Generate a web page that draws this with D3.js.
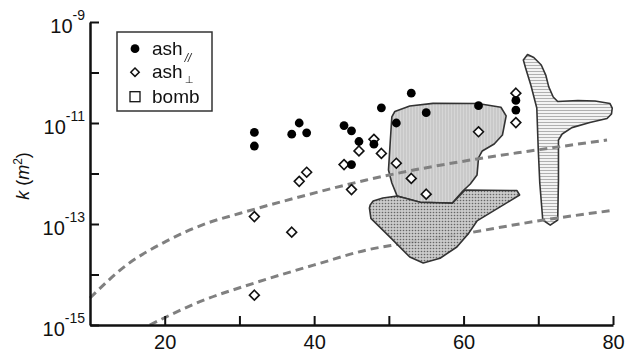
<!DOCTYPE html>
<html>
<head>
<meta charset="utf-8">
<script src="https://cdn.jsdelivr.net/npm/d3@7"></script>
<style>
  body { margin: 0; background: #fff; }
  svg { display: block; font-family: "Liberation Sans", Arial, sans-serif; }
</style>
</head>
<body>
<div id="chart"></div>
<script>
// values: x, permeability k (m^2)
var xTicks = [20, 30, 40, 50, 60, 70, 80];
var xLabels = [20, 40, 60, 80];
var yTicks = [1e-15, 1e-14, 1e-13, 1e-12, 1e-11, 1e-10, 1e-9];
var yLabels = [-15, -13, -11, -9];

var ashParX = [32, 32, 37, 38, 39, 44, 45, 45, 46, 48, 49, 51, 53, 55, 62, 67, 67];
var ashParK = [6.5e-12, 3.5e-12, 6.0e-12, 1.0e-11, 6.4e-12, 8.9e-12, 7.0e-12, 1.5e-12, 4.3e-12,
               3.8e-12, 2.0e-11, 1.0e-11, 3.9e-11, 1.6e-11, 2.2e-11, 2.8e-11, 1.8e-11];

var ashPerpX = [32, 32, 37, 38, 39, 44, 45, 46, 48, 49, 51, 53, 55, 62, 67, 67];
var ashPerpK = [1.4e-13, 3.9e-15, 6.9e-14, 7.0e-13, 1.06e-12, 1.5e-12, 4.8e-13, 2.8e-12,
                4.75e-12, 2.5e-12, 1.6e-12, 8.0e-13, 3.9e-13, 6.7e-12, 3.9e-11, 1.02e-11];

// dashed trend curves
var upperCurve = [[10, 3.43e-15], [14.9, 1.54e-14], [20.1, 4.47e-14], [25.6, 1.03e-13], [30.1, 1.63e-13],
                  [39.0, 3.75e-13], [47.0, 7.43e-13], [61.8, 1.94e-12], [68.9, 2.79e-12], [79.2, 4.6e-12]];
var lowerCurve = [[18.0, 1.0e-15], [24.7, 2.89e-15], [31.9, 6.7e-15], [40.8, 1.67e-14], [47.0, 3.05e-14],
                  [51.5, 4.02e-14], [60.4, 6.55e-14], [69.3, 1.11e-13], [79.6, 1.83e-13]];

// shaded regions
var grayRegion = [[50.8, 1.69e-11], [52.8, 2.17e-11], [55.9, 2.45e-11], [61.9, 2.43e-11], [65.0, 2.05e-11],
                  [65.7, 1.38e-11], [65.2, 5.78e-12], [64.1, 3.84e-12], [62.5, 2.79e-12], [62.0, 2.03e-12],
                  [61.8, 9.3e-13], [60.9, 6.2e-13], [59.9, 4.5e-13], [58.5, 2.6e-13], [54.2, 2.7e-13],
                  [51.1, 3.6e-13], [50.4, 6.5e-13], [49.95, 1.17e-12], [50.2, 4.6e-12], [50.4, 1.32e-11]];
var dotRegion = [[47.5, 2.38e-13], [47.9, 2.85e-13], [49.2, 3.27e-13], [51.1, 3.58e-13], [54.2, 2.69e-13],
                 [58.5, 2.57e-13], [60.2, 4.71e-13], [67.15, 4.6e-13], [67.5, 3.75e-13], [61.8, 1.15e-13],
                 [60.7, 6.6e-14], [59.1, 3.5e-14], [56.85, 2.1e-14], [54.6, 1.69e-14], [52.8, 2.22e-14],
                 [50.15, 5.5e-14], [47.6, 1.29e-13], [47.4, 2.07e-13]];
var bombRegion = [[68.0, 1.77e-10], [68.56, 2.27e-10], [69.4, 1.98e-10], [70.4, 1.41e-10], [71.0, 8.9e-11],
                  [71.4, 5.2e-11], [72.0, 3.27e-11], [72.6, 2.67e-11], [75.3, 2.79e-11], [77.6, 2.73e-11],
                  [79.6, 2.43e-11], [79.9, 1.98e-11], [79.8, 1.51e-11], [79.2, 1.23e-11], [76.9, 1.02e-11],
                  [74.5, 8.1e-12], [73.2, 6.05e-12], [72.7, 4.6e-12], [72.7, 7.4e-13], [72.6, 1.2e-13],
                  [71.6, 9.5e-14], [70.6, 1.2e-13], [70.2, 6.5e-13], [70.0, 2.92e-12], [69.8, 1.98e-11],
                  [69.0, 5.65e-11], [68.3, 1.23e-10]];

var legendItems = ["par", "perp", "bomb"];

var margin = {top: 22, right: 15, bottom: 29, left: 90},
    width = 628 - margin.left - margin.right,
    height = 354 - margin.top - margin.bottom;

var svg = d3.select("#chart")
  .append("svg")
    .attr("width", 628)
    .attr("height", 354)
  .append("g")
    .attr("transform", "translate(" + margin.left + "," + margin.top + ")");

var defs = d3.select("svg").append("defs");

// identity filter, renders legend text offscreen (grayscale smoothing)
defs.append("filter").attr("id", "flat")
  .append("feOffset").attr("dx", 0).attr("dy", 0);

// fine vertical texture for the gray region
var p1 = defs.append("pattern").attr("id", "vstripe").attr("patternUnits", "userSpaceOnUse")
  .attr("width", 3).attr("height", 3);
p1.append("rect").attr("width", 3).attr("height", 3).attr("fill", "#c9c9c9");
p1.append("line").attr("x1", 1.5).attr("x2", 1.5).attr("y1", 0).attr("y2", 3)
  .attr("stroke", "#d6d6d6").attr("stroke-width", 1);

// stipple
var p2 = defs.append("pattern").attr("id", "dots").attr("patternUnits", "userSpaceOnUse")
  .attr("width", 3).attr("height", 3);
p2.append("rect").attr("width", 3).attr("height", 3).attr("fill", "#c4c4c4");
p2.append("circle").attr("cx", 1.5).attr("cy", 1.5).attr("r", 0.8).attr("fill", "#555");

// horizontal lines for bomb
var p3 = defs.append("pattern").attr("id", "hlines").attr("patternUnits", "userSpaceOnUse")
  .attr("width", 4).attr("height", 3);
p3.append("rect").attr("width", 4).attr("height", 3).attr("fill", "#f3f3f3");
p3.append("line").attr("x1", 0).attr("x2", 4).attr("y1", 1.5).attr("y2", 1.5)
  .attr("stroke", "#b0b0b0").attr("stroke-width", 1);

var x = d3.scaleLinear().domain([10, 80]).range([0, width]);
var y = d3.scaleLog().domain([1e-15, 1e-9]).range([height, 0]);

var area = d3.line()
  .x(function(d) { return x(d[0]); })
  .y(function(d) { return y(d[1]); })
  .curve(d3.curveLinearClosed);

var curve = d3.line()
  .x(function(d) { return x(d[0]); })
  .y(function(d) { return y(d[1]); })
  .curve(d3.curveMonotoneX);

// regions
svg.append("path").datum(bombRegion)
  .attr("d", area).attr("fill", "url(#hlines)")
  .attr("stroke", "#333").attr("stroke-width", 1.6).attr("stroke-linejoin", "round");
svg.append("path").datum(grayRegion)
  .attr("d", area).attr("fill", "url(#vstripe)")
  .attr("stroke", "#333").attr("stroke-width", 1.6).attr("stroke-linejoin", "round");

// dashed curves
svg.selectAll(".trend")
  .data([upperCurve, lowerCurve])
  .enter().append("path")
    .attr("class", "trend")
    .attr("d", curve)
    .attr("fill", "none")
    .attr("stroke", "#808080")
    .attr("stroke-width", 3)
    .attr("stroke-dasharray", "8,5");

svg.append("path").datum(dotRegion)
  .attr("d", area).attr("fill", "url(#dots)").attr("fill-opacity", 0.9)
  .attr("stroke", "#333").attr("stroke-width", 1.6).attr("stroke-linejoin", "round");

// axes
var xAxis = svg.append("g")
  .attr("transform", "translate(0," + height + ")")
  .call(d3.axisBottom(x)
    .tickValues(xTicks)
    .tickSizeInner(-9)
    .tickSizeOuter(0)
    .tickPadding(10)
    .tickFormat(function(d) { return xLabels.indexOf(d) >= 0 ? d : ""; }));

var yAxis = svg.append("g")
  .call(d3.axisLeft(y)
    .tickValues(yTicks)
    .tickSizeInner(-9)
    .tickSizeOuter(0)
    .tickFormat(""));

[xAxis, yAxis].forEach(function(a) {
  a.select(".domain").attr("stroke", "#111").attr("stroke-width", 2.5);
  a.selectAll(".tick line").attr("stroke", "#111").attr("stroke-width", 2);
  a.selectAll(".tick text").attr("fill", "#111").style("font-size", "20px")
    .style("font-family", "'Liberation Sans', Arial, sans-serif");
});

// y labels as 10^n
var yl = svg.selectAll(".ylab")
  .data(yLabels)
  .enter().append("text")
    .attr("class", "ylab")
    .attr("x", -5)
    .attr("y", function(d) { return y(Math.pow(10, d)) + 11; })
    .attr("text-anchor", "end")
    .attr("fill", "#111");
yl.append("tspan").style("font-size", "20px").text("10");
yl.append("tspan").style("font-size", "14px").attr("dy", -13).text(function(d) { return d; });

// y title
var yt = svg.append("text")
  .attr("transform", "translate(" + (29 - margin.left) + "," + (176 - margin.top) + ") rotate(-90)")
  .attr("text-anchor", "middle")
  .attr("fill", "#111")
  .style("font-size", "18px");
yt.append("tspan").style("font-style", "italic").text("k");
yt.append("tspan").text(" (");
yt.append("tspan").style("font-style", "italic").text("m");
yt.append("tspan").attr("dy", -7).style("font-size", "12px").text("2");
yt.append("tspan").attr("dy", 7).text(")");

// points: diamonds first, filled circles over them
var diamond = d3.symbol().type(d3.symbolDiamond2).size(62);
svg.selectAll(".perp")
  .data(ashPerpX)
  .enter().append("path")
    .attr("class", "perp")
    .attr("d", diamond)
    .attr("transform", function(d, i) { return "translate(" + x(d) + "," + y(ashPerpK[i]) + ")"; })
    .attr("fill", "#fff")
    .attr("stroke", "#111")
    .attr("stroke-width", 1.6);

svg.selectAll(".par")
  .data(ashParX)
  .enter().append("circle")
    .attr("class", "par")
    .attr("cx", function(d) { return x(d); })
    .attr("cy", function(d, i) { return y(ashParK[i]); })
    .attr("r", 4.4)
    .attr("fill", "#000");

// ----- LEGEND -----
var lg = d3.select("svg").append("g").attr("transform", "translate(117,32)");
lg.append("rect")
  .attr("width", 95).attr("height", 79)
  .attr("fill", "#fff").attr("stroke", "#333").attr("stroke-width", 1.5);

var rows = lg.selectAll(".legend")
  .data(legendItems)
  .enter().append("g")
    .attr("class", "legend")
    .attr("transform", function(d, i) { return "translate(0," + (16.7 + i * 23.5 + (i === 2 ? 1 : 0)) + ")"; });

rows.each(function(d) {
  var g = d3.select(this);
  if (d === "par") {
    g.append("circle").attr("cx", 18).attr("cy", 0).attr("r", 4.4).attr("fill", "#000");
  } else if (d === "perp") {
    g.append("path").attr("d", d3.symbol().type(d3.symbolDiamond2).size(45))
      .attr("transform", "translate(18,0)")
      .attr("fill", "#fff").attr("stroke", "#111").attr("stroke-width", 1.5);
  } else {
    g.append("rect").attr("x", 13).attr("y", -5).attr("width", 10).attr("height", 10)
      .attr("fill", "#fff").attr("stroke", "#111").attr("stroke-width", 1.3);
  }
  var t = g.append("text").attr("x", 35).attr("y", 6).attr("fill", "#111")
    .attr("filter", "url(#flat)").style("font-size", "19px");
  if (d === "bomb") {
    t.text("bomb");
  } else {
    t.append("tspan").text("ash");
    t.append("tspan").attr("dy", d === "par" ? 6 : 5).attr("dx", 2)
      .style("font-size", "10px")
      .style("font-style", d === "par" ? "italic" : "normal")
      .style("font-family", "'DejaVu Sans', sans-serif")
      .attr("fill", "#111")
      .text(d === "par" ? "//" : "\u22A5");
  }
});
</script>
</body>
</html>
